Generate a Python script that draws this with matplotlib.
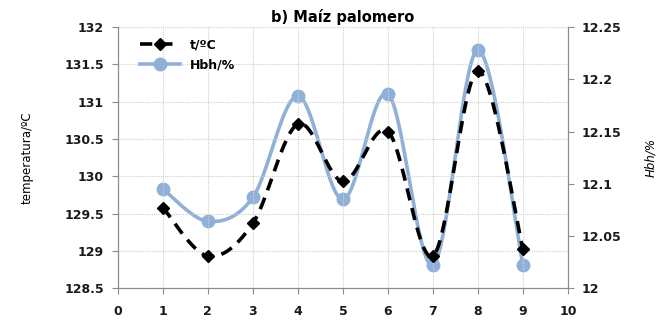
import numpy as np
import matplotlib
matplotlib.use("Agg")
import matplotlib.pyplot as plt
from matplotlib.lines import Line2D

x = [1, 2, 3, 4, 5, 6, 7, 8, 9]
temp = [129.58, 128.93, 129.37, 130.70, 129.93, 130.60, 128.93, 131.41, 129.02]
hbh = [12.095, 12.064, 12.087, 12.184, 12.085, 12.186, 12.022, 12.228, 12.022]

title = "b) Maíz palomero"
temp_label = "t/ºC"
hbh_label = "Hbh/%"
left_ylabel = "temperatura/ºC"
right_ylabel = "Hbh/%"


def smooth(xs, ys, n=40):
    """Bezier smoothing with Catmull-Rom control points."""
    xs = np.asarray(xs, float)
    ys = np.asarray(ys, float)
    pts = np.column_stack([xs, ys])
    out = []
    for i in range(len(pts) - 1):
        p0 = pts[i - 1] if i > 0 else pts[i]
        p1 = pts[i]
        p2 = pts[i + 1]
        p3 = pts[i + 2] if i + 2 < len(pts) else pts[i + 1]
        c1 = p1 + (p2 - p0) / 6.0
        c2 = p2 - (p3 - p1) / 6.0
        t = np.linspace(0, 1, n)[:, None]
        seg = ((1 - t) ** 3) * p1 + 3 * ((1 - t) ** 2) * t * c1 + 3 * (1 - t) * t ** 2 * c2 + t ** 3 * p2
        out.append(seg if i == 0 else seg[1:])
    arr = np.vstack(out)
    return arr[:, 0], arr[:, 1]


plt.rcParams["font.family"] = ["DejaVu Sans"]
fig = plt.figure(figsize=(6.62, 3.23), dpi=100)
ax = fig.add_axes([0.178, 0.108, 0.68, 0.808])
ax2 = ax.twinx()

blue = "#8FB1D9"
spine_c = "#8C8C8C"
dash = (0, (3.4, 2.2))

# humidity series (right axis)
sx, sy = smooth(x, hbh)
ax2.plot(sx, sy, color=blue, lw=2.6, zorder=2)
ax2.plot(x, hbh, "o", color=blue, ms=9, zorder=3)

# temperature series (left axis)
tx, ty = smooth(x, temp)
ax.plot(tx, ty, color="black", lw=2.6, ls=dash, zorder=3)
ax.plot(x, temp, "D", color="black", ms=6, zorder=4)

ax.set_zorder(ax2.get_zorder() + 1)
ax.patch.set_visible(False)

ax.set_xlim(0, 10)
ax.set_ylim(128.5, 132)
ax2.set_ylim(12.0, 12.25)
ax.set_xticks(range(0, 11))
ax.set_yticks(np.arange(128.5, 132.01, 0.5))
ax2.set_yticks([12.0, 12.05, 12.1, 12.15, 12.2, 12.25])
ax.set_yticklabels(["128.5", "129", "129.5", "130", "130.5", "131", "131.5", "132"])
ax2.set_yticklabels(["12", "12.05", "12.1", "12.15", "12.2", "12.25"])

ax.grid(True, color="#CFCFCF", ls=(0, (1, 1)), lw=0.8)
ax.set_axisbelow(True)

for a in (ax, ax2):
    for s in a.spines.values():
        s.set_color(spine_c)
    a.spines["top"].set_visible(False)
    a.tick_params(colors=spine_c, labelcolor="#1A1A1A", length=4, width=0.8)
    for lbl in a.get_xticklabels() + a.get_yticklabels():
        lbl.set_fontweight("bold")
        lbl.set_fontsize(9)
ax.tick_params(axis="x", pad=8)
ax.tick_params(axis="y", pad=6)
ax2.tick_params(axis="y", pad=6)

ax.set_ylabel(left_ylabel, fontsize=8.5, labelpad=22)
ax2.set_ylabel(right_ylabel, fontsize=8.5, style="italic", labelpad=16)
ax.set_title(title, fontsize=10.5, fontweight="bold", pad=4)

handles = [
    Line2D([], [], color="black", lw=2.6, ls=dash, marker="D", ms=6),
    Line2D([], [], color=blue, lw=2.6, marker="o", ms=9),
]
leg = ax.legend(handles, [temp_label, hbh_label], loc="upper left", frameon=False,
                prop={"weight": "bold", "size": 9}, handlelength=3.2,
                borderaxespad=0.5, labelspacing=0.55, bbox_to_anchor=(0.025, 1.0))

fig.savefig("out.png", dpi=100)
